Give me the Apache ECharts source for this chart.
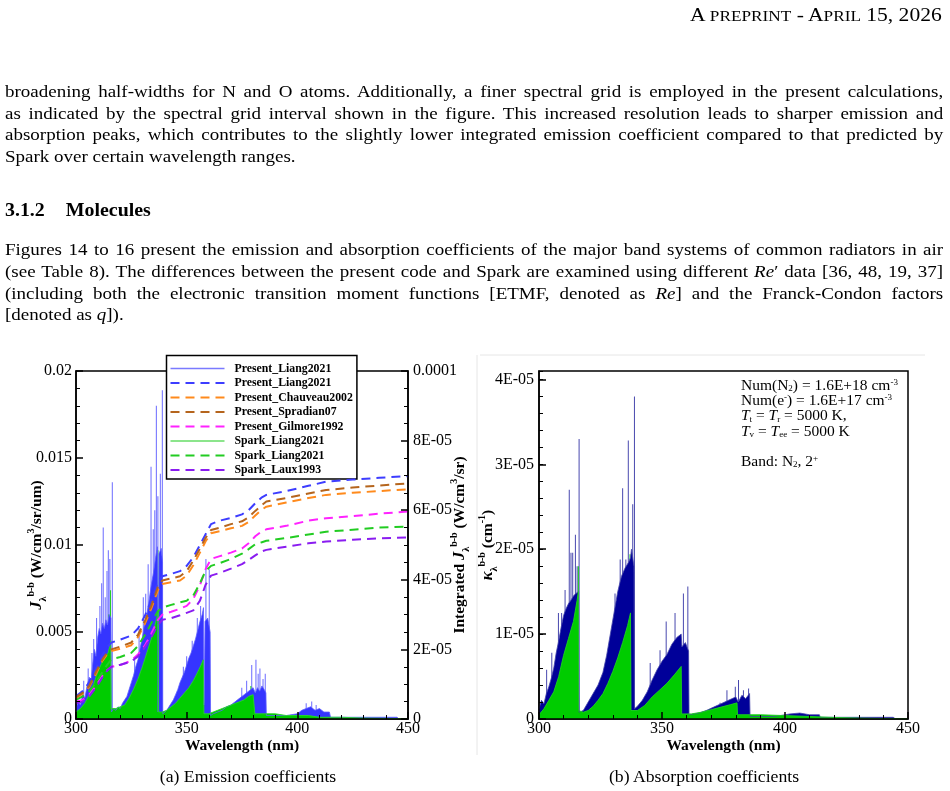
<!DOCTYPE html>
<html>
<head>
<meta charset="utf-8">
<script src="https://cdn.jsdelivr.net/npm/echarts@6.0.0/dist/echarts.min.js"></script>
<style>
  html, body { margin: 0; padding: 0; background: #fff; }
  body { width: 950px; height: 791px; position: relative; overflow: hidden; font-family: 'Liberation Serif', 'Times New Roman', serif; color: #000; }
  #chart { position: absolute; left: 0; top: 0; width: 950px; height: 791px; }
  .txt { position: absolute; white-space: nowrap; }
  .para { left: 5px; width: 849px; font-size: 17.2px; line-height: 21.7px; transform: scaleX(1.105); transform-origin: 0 0; }
  .para div { text-align: justify; text-align-last: justify; white-space: nowrap; }
  .para div.last { text-align-last: left; }
  .head { right: 8px; top: 4px; font-size: 19.5px; line-height: 22px; transform: scaleX(1.105); transform-origin: 100% 0; }
  .sc { font-size: 15.6px; }
  .cap { font-size: 16px; line-height: 20px; transform: translateX(-50%) scaleX(1.105); }
</style>
</head>
<body>
<div id="chart"></div>

<div class="txt head">A <span class="sc">PREPRINT</span> - A<span class="sc">PRIL</span> 15, 2026</div>

<div class="txt para" style="top:80.8px;">
  <div>broadening half-widths for N and O atoms. Additionally, a finer spectral grid is employed in the present calculations,</div>
  <div>as indicated by the spectral grid interval shown in the figure. This increased resolution leads to sharper emission and</div>
  <div>absorption peaks, which contributes to the slightly lower integrated emission coefficient compared to that predicted by</div>
  <div class="last">Spark over certain wavelength ranges.</div>
</div>

<div class="txt" style="left:5px; top:199px; font-size:18px; line-height:22px; font-weight:bold; transform:scaleX(1.105); transform-origin:0 0;">3.1.2<span style="display:inline-block; width:19px;"></span>Molecules</div>

<div class="txt para" style="top:239.2px;">
  <div>Figures 14 to 16 present the emission and absorption coefficients of the major band systems of common radiators in air</div>
  <div>(see Table 8). The differences between the present code and Spark are examined using different <i>Re</i>&#8242; data [36, 48, 19, 37]</div>
  <div>(including both the electronic transition moment functions [ETMF, denoted as <i>Re</i>] and the Franck-Condon factors</div>
  <div class="last">[denoted as <i>q</i>]).</div>
</div>

<div class="txt cap" style="left:248px; top:767px;">(a) Emission coefficients</div>
<div class="txt cap" style="left:704px; top:767px;">(b) Absorption coefficients</div>

<script>
  // panel (a): band envelope of the emission coefficient, [wavelength nm, W/cm3/sr/um]
  const presentEmis = [
    [300, 0.0006], [301, 0.0010], [302, 0.0008], [303, 0.0014], [304, 0.0012], [305, 0.0019],
    [306, 0.0024], [306.8, 0.0021], [307.5, 0.0031], [308.3, 0.0040], [309, 0.0036], [309.8, 0.0047],
    [310.5, 0.0052], [311.2, 0.0049], [312, 0.0055], [312.8, 0.0052], [313.5, 0.0057], [314.2, 0.0054],
    [315, 0.0060], [315.8, 0.0058], [316.0, 0.0004], [317, 0.0006], [318, 0.0005], [319, 0.0007],
    [320, 0.0006], [321, 0.0009], [322, 0.0011], [323, 0.0013], [324, 0.0017], [325, 0.0021],
    [326, 0.0025], [327, 0.0030], [328, 0.0034], [329, 0.0041], [330, 0.0047], [331, 0.0055],
    [332, 0.0060], [333, 0.0068], [334, 0.0077], [335, 0.0084], [336, 0.0093], [336.8, 0.0099],
    [337.1, 0.0004], [337.4, 0.0004], [337.5, 0.0095], [338.5, 0.0098], [339.1, 0.0090], [339.2, 0.0003],
    [340, 0.0004], [341, 0.0005], [342, 0.0007], [343, 0.0009], [344, 0.0011], [345, 0.0014],
    [346, 0.0017], [347, 0.0021], [348, 0.0024], [349, 0.0027], [350, 0.0031], [351, 0.0035],
    [352, 0.0038], [353, 0.0042], [354, 0.0046], [355, 0.0051], [356, 0.0056], [357, 0.0060],
    [357.6, 0.0064], [357.8, 0.0008], [357.9, 0.0010], [358.3, 0.0056], [359.5, 0.0058], [360.6, 0.0050],
    [360.8, 0.0002], [362, 0.0003], [364, 0.0004], [366, 0.0005], [368, 0.0007], [370, 0.0008],
    [372, 0.0010], [374, 0.0012], [376, 0.0014], [378, 0.0016], [380, 0.0018], [380.6, 0.0017],
    [381, 0.0015], [382, 0.0018], [383, 0.0016], [384, 0.0019], [385, 0.0017], [385.8, 0.0015],
    [386, 0.0002], [390, 0.0002], [395, 0.0002], [400, 0.0003], [402, 0.0005], [404, 0.0006],
    [406, 0.0007], [408, 0.0005], [410, 0.0006], [412, 0.0004], [414.5, 0.0004], [415, 0.0001],
    [430, 0.0001], [445, 0.0001], [446, 0]
  ];
  // tall single lines sticking out of the bands
  const presentEmisLines = [
    [303.5, 0.0022], [305.5, 0.0029], [307.2, 0.0038], [308.0, 0.0046], [309.3, 0.0058], [310.8, 0.0065],
    [311.6, 0.0078], [312.3, 0.0110], [313.2, 0.0070], [314.0, 0.0085], [314.6, 0.0097], [315.3, 0.0092],
    [316.4, 0.0136], [326.5, 0.0034], [328.5, 0.0052], [330.4, 0.0070], [331.5, 0.0072], [332.6, 0.0089],
    [333.9, 0.0145], [334.9, 0.0109], [335.6, 0.0120], [336.3, 0.0180], [337.0, 0.0128], [338.1, 0.0141],
    [339.0, 0.0189], [348.5, 0.0030], [350, 0.0036], [352.5, 0.0045], [354.8, 0.0058], [356.3, 0.0065],
    [358.7, 0.0092], [360.2, 0.0086], [374.9, 0.0018], [377.1, 0.0022], [379.4, 0.0031], [381.3, 0.0034],
    [382.3, 0.0026], [383.1, 0.0029], [384.5, 0.0023], [385.5, 0.0026], [404, 0.0009], [406.5, 0.0010],
    [408.5, 0.0008]
  ];
  const sparkEmis = [
    [300, 0.0004], [302, 0.0006], [304, 0.0009], [306, 0.0014], [307.5, 0.0018], [309, 0.0024],
    [310.5, 0.0029], [312, 0.0033], [313.5, 0.0036], [314.5, 0.0038], [315.3, 0.0042], [315.7, 0.0045],
    [315.9, 0.0006], [318, 0.0006], [320, 0.0007], [322, 0.0008], [324, 0.0012], [326, 0.0017],
    [328, 0.0023], [330, 0.0030], [332, 0.0038], [334, 0.0046], [335.5, 0.0053], [336.5, 0.0058],
    [337.2, 0.0062], [337.3, 0.0004], [339, 0.0004], [341, 0.0005], [343, 0.0007], [345, 0.0009],
    [347, 0.0012], [349, 0.0015], [351, 0.0018], [353, 0.0022], [355, 0.0027], [356.5, 0.0031],
    [357.5, 0.0034], [357.8, 0.0003], [360, 0.0003], [362, 0.0004], [364, 0.0005], [366, 0.0006],
    [368, 0.0007], [370, 0.0008], [372, 0.0009], [374, 0.0010], [376, 0.0011], [378, 0.0013],
    [380, 0.0014], [380.6, 0.0015], [380.8, 0.0003], [385, 0.0003], [390, 0.0003], [395, 0.0002],
    [400, 0.0002], [405, 0.0002], [410, 0.0001], [420, 0.0001], [430, 0.00005], [450, 0.00002]
  ];
  const sparkEmisLines = [
    [311.0, 0.0041], [313.4, 0.0050], [314.8, 0.0060], [315.6, 0.0074], [333.0, 0.0058], [334.5, 0.0072],
    [336.0, 0.0080], [337.0, 0.0097], [355.0, 0.0040], [357.0, 0.0044], [379.0, 0.0019]
  ];

  // panel (a), right axis: integrated emission [wavelength nm, W/cm3/sr]
  const intWl = [300, 303, 306, 309, 312, 314, 316, 320, 325, 328, 331, 334, 337, 339, 343, 347, 350,
    353, 356, 358.5, 361, 365, 370, 375, 378, 381, 384, 386, 395, 405, 413, 425, 437, 450];
  const intPresentLiang = [6.5e-6, 8.0e-6, 1.05e-5, 1.45e-5, 1.85e-5, 2.05e-5, 2.2e-5, 2.28e-5, 2.4e-5, 2.6e-5,
    2.95e-5, 3.4e-5, 3.95e-5, 4.1e-5, 4.17e-5, 4.25e-5, 4.4e-5, 4.65e-5, 5.0e-5, 5.3e-5, 5.6e-5, 5.7e-5,
    5.78e-5, 5.88e-5, 6.0e-5, 6.2e-5, 6.37e-5, 6.44e-5, 6.55e-5, 6.7e-5, 6.82e-5, 6.88e-5, 6.93e-5, 6.98e-5];
  const intChauveau = [6.0e-6, 7.2e-6, 9.2e-6, 1.3e-5, 1.68e-5, 1.85e-5, 1.95e-5, 2.02e-5, 2.12e-5, 2.35e-5,
    2.72e-5, 3.17e-5, 3.7e-5, 3.88e-5, 3.93e-5, 3.98e-5, 4.12e-5, 4.42e-5, 4.78e-5, 5.1e-5, 5.34e-5, 5.4e-5,
    5.48e-5, 5.55e-5, 5.66e-5, 5.85e-5, 6.02e-5, 6.1e-5, 6.22e-5, 6.35e-5, 6.44e-5, 6.5e-5, 6.55e-5, 6.6e-5];
  const intSpradian = [6.3e-6, 7.5e-6, 9.5e-6, 1.35e-5, 1.72e-5, 1.9e-5, 2.0e-5, 2.08e-5, 2.2e-5, 2.42e-5,
    2.8e-5, 3.25e-5, 3.8e-5, 3.98e-5, 4.04e-5, 4.1e-5, 4.25e-5, 4.55e-5, 4.9e-5, 5.2e-5, 5.43e-5, 5.5e-5,
    5.6e-5, 5.68e-5, 5.8e-5, 5.98e-5, 6.15e-5, 6.25e-5, 6.35e-5, 6.48e-5, 6.58e-5, 6.65e-5, 6.71e-5, 6.77e-5];
  const intGilmore = [5.0e-6, 5.5e-6, 7.0e-6, 9.5e-6, 1.25e-5, 1.4e-5, 1.5e-5, 1.55e-5, 1.68e-5, 1.85e-5,
    2.1e-5, 2.45e-5, 2.85e-5, 3.0e-5, 3.08e-5, 3.17e-5, 3.25e-5, 3.45e-5, 3.85e-5, 4.3e-5, 4.6e-5, 4.68e-5,
    4.78e-5, 4.9e-5, 5.05e-5, 5.25e-5, 5.4e-5, 5.45e-5, 5.55e-5, 5.7e-5, 5.77e-5, 5.83e-5, 5.9e-5, 5.96e-5];
  const intSparkLiang = [5.5e-6, 6.5e-6, 8.0e-6, 1.05e-5, 1.35e-5, 1.55e-5, 1.72e-5, 1.78e-5, 1.9e-5, 2.1e-5,
    2.4e-5, 2.75e-5, 3.1e-5, 3.2e-5, 3.28e-5, 3.35e-5, 3.4e-5, 3.55e-5, 3.9e-5, 4.25e-5, 4.4e-5, 4.48e-5,
    4.6e-5, 4.75e-5, 4.88e-5, 5.02e-5, 5.08e-5, 5.12e-5, 5.2e-5, 5.3e-5, 5.38e-5, 5.44e-5, 5.5e-5, 5.53e-5];
  const intLaux = [4.5e-6, 5.0e-6, 6.5e-6, 9.0e-6, 1.2e-5, 1.38e-5, 1.5e-5, 1.56e-5, 1.65e-5, 1.8e-5,
    2.05e-5, 2.35e-5, 2.7e-5, 2.85e-5, 2.9e-5, 2.98e-5, 3.05e-5, 3.12e-5, 3.4e-5, 3.85e-5, 4.12e-5, 4.2e-5,
    4.32e-5, 4.45e-5, 4.57e-5, 4.7e-5, 4.82e-5, 4.86e-5, 4.95e-5, 5.05e-5, 5.1e-5, 5.15e-5, 5.19e-5, 5.22e-5];

  // panel (b): absorption coefficient [wavelength nm, 1/cm]
  const presentAbs = [
    [300, 1.2e-6], [301, 2.2e-6], [302, 1.8e-6], [303, 3.0e-6], [304, 3.8e-6], [305, 4.8e-6],
    [306, 6.0e-6], [307, 7.8e-6], [308, 9.2e-6], [309, 1.08e-5], [310, 1.22e-5], [311, 1.3e-5],
    [312, 1.36e-5], [313, 1.4e-5], [314, 1.45e-5], [315, 1.48e-5], [316.1, 1.5e-5], [316.3, 8e-7],
    [318, 1.0e-6], [320, 2.0e-6], [322, 3.0e-6], [324, 4.0e-6], [326, 5.5e-6], [327.5, 7.5e-6],
    [329, 1.0e-5], [330.5, 1.25e-5], [332, 1.5e-5], [333.5, 1.68e-5], [335, 1.78e-5], [336.5, 1.85e-5],
    [337.2, 1.9e-5], [337.6, 2.0e-5], [338.6, 1.8e-5], [338.8, 1.2e-6], [340, 1.5e-6], [342, 2.2e-6],
    [344, 3.2e-6], [346, 4.6e-6], [348, 5.8e-6], [350, 6.8e-6], [352, 7.6e-6], [354, 8.8e-6],
    [356, 9.6e-6], [357.8, 1.0e-5], [358.1, 8.5e-6], [359.5, 9.0e-6], [360.8, 8.0e-6], [361, 5e-7],
    [365, 7e-7], [368, 1.0e-6], [371, 1.4e-6], [374, 1.8e-6], [377, 2.2e-6], [380, 2.6e-6],
    [381, 2.0e-6], [382.5, 2.8e-6], [384, 2.4e-6], [385.6, 3.0e-6], [385.8, 3e-7], [390, 3e-7],
    [395, 3e-7], [398, 4e-7], [402, 6e-7], [406, 7e-7], [410, 5e-7], [414, 5e-7], [414.3, 2e-7],
    [430, 2e-7], [444, 2e-7], [445, 0]
  ];
  const presentAbsLines = [
    [303.1, 5.8e-6], [305.2, 7.8e-6], [307.9, 1.25e-5], [309.2, 1.25e-5], [310.6, 1.52e-5], [312.3, 2.7e-5],
    [313.0, 1.96e-5], [313.7, 1.96e-5], [314.8, 2.17e-5], [315.5, 1.8e-5], [316.3, 3.3e-5], [330.9, 1.48e-5],
    [333.0, 1.88e-5], [334.0, 2.72e-5], [335.3, 1.88e-5], [336.3, 3.28e-5], [338.1, 2.53e-5], [338.8, 3.8e-5],
    [345.2, 6.6e-6], [349.2, 8.1e-6], [351.7, 1.15e-5], [355.3, 1.25e-5], [358.7, 1.48e-5], [360.5, 1.56e-5],
    [373.6, 1.9e-6], [376.4, 3.4e-6], [379.8, 3.8e-6], [381.1, 4.6e-6], [383.1, 3.4e-6], [385.2, 3.6e-6]
  ];
  const sparkAbs = [
    [300, 5e-7], [302, 1.2e-6], [304, 2.2e-6], [306, 3.2e-6], [308, 5.0e-6], [310, 7.5e-6],
    [312, 9.5e-6], [314, 1.15e-5], [315.5, 1.4e-5], [316.0, 1.5e-5], [316.1, 1.0e-6], [318, 8e-7],
    [320, 1.0e-6], [322, 1.5e-6], [324, 2.2e-6], [326, 3.0e-6], [328, 4.2e-6], [330, 5.6e-6],
    [332, 7.2e-6], [334, 9.0e-6], [336, 1.1e-5], [337.2, 1.25e-5], [337.4, 1.0e-6], [340, 1.0e-6],
    [343, 1.6e-6], [346, 2.6e-6], [349, 3.4e-6], [352, 4.2e-6], [355, 5.2e-6], [357.8, 6.2e-6],
    [358, 6e-7], [362, 6e-7], [366, 8e-7], [370, 1.1e-6], [374, 1.4e-6], [378, 1.7e-6],
    [380.5, 1.9e-6], [380.7, 5e-7], [390, 5e-7], [400, 4e-7], [410, 3e-7], [418, 2e-7],
    [430, 1e-7], [450, 0]
  ];
  const sparkAbsLines = [
    [314.0, 1.25e-5], [316.0, 1.8e-5], [333.6, 1.25e-5], [335.7, 1.56e-5], [337.0, 1.94e-5],
    [354.7, 7.4e-6], [357.1, 7.8e-6]
  ];

  const bandNote = [
    'Num(N{sub|2}) = 1.6E+18 cm{sup|-3}',
    'Num(e{sup|-}) = 1.6E+17 cm{sup|-3}',
    '{it|T}{sub|t} = {it|T}{sub|r} = 5000 K,',
    '{it|T}{sub|v} = {it|T}{sub|ee} = 5000 K',
    '',
    'Band: N{sub|2}, 2{sup|+}'
  ];

  const serif = 'Liberation Serif';

  function sciLabel(v) {
    if (v === 0) return '0';
    if (v >= 1e-4) return String(+v.toFixed(4));
    const e = Math.floor(Math.log10(v) + 1e-9);
    const m = Math.round(v / Math.pow(10, e));
    return m + 'E-' + String(-e).padStart(2, '0');
  }

  function nameRich(size) {
    return {
      it: {fontFamily: serif, fontWeight: 'bold', fontStyle: 'italic', fontSize: size + 1, lineHeight: 22},
      sub: {fontFamily: serif, fontWeight: 'bold', fontSize: 10, lineHeight: 10, verticalAlign: 'bottom'},
      sup: {fontFamily: serif, fontWeight: 'bold', fontSize: 10, lineHeight: 10, verticalAlign: 'top'}
    }
  }

  function valueAxis(extra) {
    return Object.assign({
      type: 'value',
      z: 5,
      nameMoveOverlap: false,
      splitLine: {show: false},
      axisLine: {show: true, onZero: false, lineStyle: {color: '#000', width: 1.5}},
      axisTick: {show: true, inside: true, length: 7, lineStyle: {color: '#000', width: 1.5}},
      axisLabel: {color: '#000', fontFamily: serif, fontSize: 16},
      nameTextStyle: {color: '#000', fontFamily: serif, fontWeight: 'bold', fontSize: 15.5, lineHeight: 22, rich: nameRich(15.5)}
    }, extra)
  }

  function dashed(name, ys, color) {
    return {
      name: name,
      type: 'line',
      xAxisIndex: 0,
      yAxisIndex: 1,
      symbol: 'none',
      data: intWl.map((w, i) => [w, ys[i]]),
      itemStyle: {color: color},
      lineStyle: {color: color, width: 2, type: [9, 6]},
      z: 4
    }
  }

  function spectrum(name, data, xi, yi, line, fill) {
    return {
      name: name, type: 'line', xAxisIndex: xi, yAxisIndex: yi, symbol: 'none', data: data,
      itemStyle: {color: fill}, lineStyle: {color: line, width: 1}, areaStyle: {color: fill, opacity: 1}
    }
  }

  function lines(name, data, xi, yi, color) {
    return {
      name: name, type: 'bar', xAxisIndex: xi, yAxisIndex: yi, data: data,
      barWidth: 1, barGap: '-100%', itemStyle: {color: color}
    }
  }

  const myChart = echarts.init(document.getElementById('chart'), null, {renderer: 'canvas'});
  const option = {
    animation: false,
    backgroundColor: 'transparent',
    grid: [
      {left: 76, top: 371, width: 332, height: 348, show: true, borderColor: '#000', borderWidth: 1.5, backgroundColor: '#fff', outerBoundsMode: 'none'},
      {left: 539, top: 371, width: 369, height: 348, show: true, borderColor: '#000', borderWidth: 1.5, backgroundColor: '#fff', outerBoundsMode: 'none'}
    ],
    legend: {
      orient: 'vertical', left: 166.5, top: 355.5, padding: [7, 4, 3, 3],
      itemGap: 2.5, itemWidth: 54, itemHeight: 12, selectedMode: false,
      backgroundColor: '#fff', borderColor: '#000', borderWidth: 1.5, borderRadius: 0,
      itemStyle: {opacity: 0, borderWidth: 0},
      textStyle: {fontFamily: serif, fontWeight: 'bold', fontSize: 11.8, lineHeight: 12, color: '#000', padding: [0, 0, 0, 5]},
      formatter: n => n.replace(' (integrated)', ''),
      data: [
        {name: 'Present_Liang2021', lineStyle: {color: '#7a7aff', width: 1.5}},
        'Present_Liang2021 (integrated)',
        'Present_Chauveau2002',
        'Present_Spradian07',
        'Present_Gilmore1992',
        {name: 'Spark_Liang2021', lineStyle: {color: '#66dd66', width: 1.5}},
        'Spark_Liang2021 (integrated)',
        'Spark_Laux1993'
      ]
    },
    xAxis: [
      valueAxis({gridIndex: 0, min: 300, max: 450, interval: 50,
        minorTick: {show: true, splitNumber: 5, length: 4, lineStyle: {color: '#000', width: 1}},
        axisLabel: {color: '#000', fontFamily: serif, fontSize: 16, margin: 2},
        name: 'Wavelength (nm)', nameLocation: 'middle', nameGap: 19,
        nameTextStyle: {color: '#000', fontFamily: serif, fontWeight: 'bold', fontSize: 15.5}}),
      valueAxis({gridIndex: 1, min: 300, max: 450, interval: 50,
        minorTick: {show: true, splitNumber: 5, length: 4, lineStyle: {color: '#000', width: 1}},
        axisLabel: {color: '#000', fontFamily: serif, fontSize: 16, margin: 2},
        name: 'Wavelength (nm)', nameLocation: 'middle', nameGap: 19,
        nameTextStyle: {color: '#000', fontFamily: serif, fontWeight: 'bold', fontSize: 15.5}})
    ],
    yAxis: [
      valueAxis({gridIndex: 0, position: 'left', min: 0, max: 0.02, interval: 0.005,
        minorTick: {show: true, splitNumber: 5, length: 4, lineStyle: {color: '#000', width: 1}},
        axisLabel: {color: '#000', fontFamily: serif, fontSize: 16, margin: 4},
        name: '{it|J}{sub|λ}{sup|b-b} (W/cm{sup|3}/sr/um)', nameLocation: 'middle', nameRotate: 90, nameGap: 28}),
      valueAxis({gridIndex: 0, position: 'right', min: 0, max: 1e-4, interval: 2e-5,
        minorTick: {show: true, splitNumber: 4, length: 4, lineStyle: {color: '#000', width: 1}},
        axisLabel: {color: '#000', fontFamily: serif, fontSize: 16, margin: 5, formatter: sciLabel},
        name: 'Integrated {it|J}{sub|λ}{sup|b-b} (W/cm{sup|3}/sr)', nameLocation: 'middle', nameRotate: 90, nameGap: 41}),
      valueAxis({gridIndex: 1, position: 'left', min: 0, max: 4.1e-5, interval: 1e-5,
        axisLabel: {color: '#000', fontFamily: serif, fontSize: 16, margin: 5, formatter: sciLabel, showMaxLabel: false},
        name: '{it|κ}{sub|λ}{sup|b-b} (cm{sup|-1})', nameLocation: 'middle', nameRotate: 90, nameGap: 40}),
      valueAxis({gridIndex: 1, position: 'left', min: 0, max: 4.1e-5, interval: 2e-6,
        axisLine: {show: false},
        axisTick: {show: true, inside: true, length: 4, lineStyle: {color: '#000', width: 1}},
        axisLabel: {show: false}})
    ],
    series: [
      spectrum('Present_Liang2021', presentEmis, 0, 0, 'rgba(95,95,255,0.8)', '#3535ff'),
      lines('Present_Liang2021 lines', presentEmisLines, 0, 0, 'rgba(80,80,255,0.85)'),
      spectrum('Spark_Liang2021', sparkEmis, 0, 0, 'rgba(40,215,40,0.9)', '#00cc00'),
      lines('Spark_Liang2021 lines', sparkEmisLines, 0, 0, '#22cc22'),
      dashed('Present_Liang2021 (integrated)', intPresentLiang, '#3d3dff'),
      dashed('Present_Chauveau2002', intChauveau, '#ff8a1c'),
      dashed('Present_Spradian07', intSpradian, '#b5651d'),
      dashed('Present_Gilmore1992', intGilmore, '#ff22ff'),
      dashed('Spark_Liang2021 (integrated)', intSparkLiang, '#22cc22'),
      dashed('Spark_Laux1993', intLaux, '#8a1cf0'),
      spectrum('Present abs', presentAbs, 1, 2, 'rgba(70,70,170,0.8)', '#000099'),
      lines('Present abs lines', presentAbsLines, 1, 2, 'rgba(40,40,160,0.85)'),
      spectrum('Spark abs', sparkAbs, 1, 2, 'rgba(30,210,30,0.9)', '#00cc00'),
      lines('Spark abs lines', sparkAbsLines, 1, 2, '#11cc11')
    ],
    graphic: [
      {type: 'line', shape: {x1: 477, y1: 355, x2: 477, y2: 755}, style: {stroke: '#e6e6e6', lineWidth: 1}, silent: true},
      {type: 'line', shape: {x1: 480, y1: 355, x2: 925, y2: 355}, style: {stroke: '#e6e6e6', lineWidth: 1}, silent: true},
      {
        type: 'text', left: 741, top: 378, z: 10, silent: true,
        style: {
          text: bandNote.join('\n'),
          fontFamily: serif, fontSize: 15.5, lineHeight: 15.2, fill: '#000',
          rich: {
            it: {fontFamily: serif, fontStyle: 'italic', fontSize: 15.5, lineHeight: 15.2},
            sub: {fontFamily: serif, fontSize: 9, lineHeight: 9, verticalAlign: 'bottom'},
            sup: {fontFamily: serif, fontSize: 9, lineHeight: 9, verticalAlign: 'top'}
          }
        }
      }
    ]
  };
  myChart.setOption(option);
</script>
</body>
</html>
